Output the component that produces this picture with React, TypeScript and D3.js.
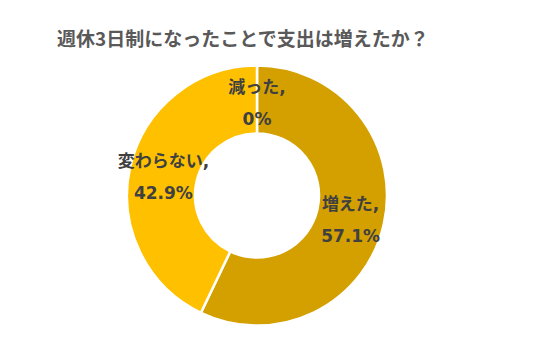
import * as d3 from "d3";

const categories = ["減った", "増えた", "変わらない"];
const values = [0, 57.1, 42.9];
const colors = ["#C9A227", "#D4A000", "#FFC000"];
const title = "週休3日制になったことで支出は増えたか？";

const W = 545;
const H = 360;
const font = "'DejaVu Sans', 'Noto Sans CJK JP', sans-serif";

export default function App() {
  const cx = 257;
  const cy = 195.5;
  const outerR = 130;
  const innerR = 62;
  const labelR = 96;

  const pie = d3.pie<number>().sort(null).value((d) => d);
  const arcs = pie(values);
  const arc = d3.arc<d3.PieArcDatum<number>>().innerRadius(innerR).outerRadius(outerR);
  const labelArc = d3.arc<d3.PieArcDatum<number>>().innerRadius(labelR).outerRadius(labelR);

  return (
    <svg width={W} height={H} style={{ position: "absolute", left: 0, top: 0, background: "#fff" }}>
      <text
        x={57}
        y={46}
        fontFamily="'Noto Sans CJK JP', sans-serif"
        fontWeight="bold"
        fontSize={19}
        fill="#595959"
      >
        {title}
      </text>
      <g transform={`translate(${cx},${cy})`}>
        {arcs.map((a, i) => (
          <path key={i} d={arc(a) || ""} fill={colors[i]} stroke="#fff" strokeWidth={2.5} />
        ))}
        {arcs.map((a, i) => {
          const [lx, ly] = labelArc.centroid(a);
          return (
            <text
              key={"l" + i}
              x={lx}
              y={ly}
              textAnchor="middle"
              fontFamily={font}
              fontWeight="bold"
              fontSize={17}
              fill="#404040"
            >
              <tspan x={lx} dy={-7}>{categories[i] + ","}</tspan>
              <tspan x={lx} dy={32}>{d3.format(".1f")(values[i]).replace(/\.0$/, "") + "%"}</tspan>
            </text>
          );
        })}
      </g>
    </svg>
  );
}
